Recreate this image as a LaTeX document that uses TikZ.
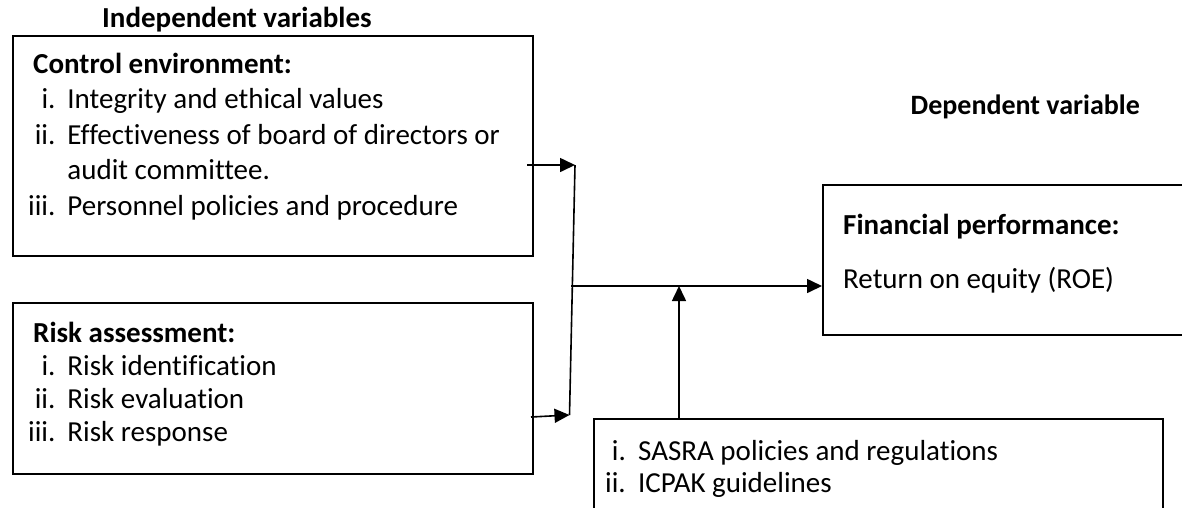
\documentclass[tikz,border=0pt]{standalone}
\usepackage{fontspec}
\setmainfont{Carlito}[Ligatures=NoCommon]
\usetikzlibrary{arrows.meta}
\tikzset{
  box/.style={draw, line width=1.5pt, inner sep=0pt, anchor=north west},
  txt/.style={inner sep=0pt, anchor=base west},
  conn/.style={line width=1.6pt},
  arr/.style={line width=1.6pt, -{Triangle[length=15pt,width=14pt]}}
}
\begin{document}
\begin{tikzpicture}[x=1pt,y=-1pt]
\clip (0,0) rectangle (1182,507);
\useasboundingbox (0,0) rectangle (1182,507);
% boxes
\node[box, minimum width=520pt, minimum height=220pt] (ce) at (12,35) {};
\node[box, minimum width=520pt, minimum height=171pt] (ra) at (12,302) {};
\node[box, minimum width=420pt, minimum height=150pt] (fp) at (822,184) {};
\node[box, minimum width=569pt, minimum height=130pt] (md) at (593,418) {};
% headings
\node[txt] (indep) at (102,27) {\fontsize{29}{35}\selectfont\bfseries Independent variables};
\node[txt, anchor=base east] (dep) at (1140,114) {\fontsize{28}{35}\selectfont\bfseries Dependent variable};
% box texts
\node[txt] (cetext) at (28,73) {\fontsize{29}{35.5}\selectfont
\begin{tabular}[t]{@{}r@{\hspace{12pt}}l@{}}
\multicolumn{2}{@{\hspace{5pt}}l}{\bfseries Control environment:}\\
i. & Integrity and ethical values\\
ii. & Effectiveness of board of directors or\\
 & audit committee.\\
iii. & Personnel policies and procedure
\end{tabular}};
\node[txt] (ratext) at (28,342) {\fontsize{29}{33.3}\selectfont
\begin{tabular}[t]{@{}r@{\hspace{12pt}}l@{}}
\multicolumn{2}{@{\hspace{5pt}}l}{\bfseries Risk assessment:}\\
i. & Risk identification\\
ii. & Risk evaluation\\
iii. & Risk response
\end{tabular}};
\node[txt] (fptitle) at (843,234) {\fontsize{29}{35}\selectfont\bfseries Financial performance:};
\node[txt] (fproe) at (843,288) {\fontsize{29}{35}\selectfont Return on equity (ROE)};
\node[txt] (mdtext) at (605,460) {\fontsize{29}{32}\selectfont
\begin{tabular}[t]{@{}r@{\hspace{12.4pt}}l@{}}
i. & SASRA policies and regulations\\
ii. & ICPAK guidelines
\end{tabular}};
% connector points
\coordinate (a1) at (527,165);
\coordinate (j1) at (575,165);
\coordinate (a2) at (531,417);
\coordinate (j2) at (569.5,415);
\coordinate (jm) at (571,286);
\coordinate (m1) at (679,418);
\coordinate (m2) at (679,286);
% connectors
\draw[arr] (a1) -- (j1);
\draw[arr] (a2) -- (j2);
\draw[conn] (j1) -- (j2);
\draw[arr] (jm) -- (fp.west |- jm);
\draw[arr] (m1) -- (m2);
\end{tikzpicture}
\end{document}
